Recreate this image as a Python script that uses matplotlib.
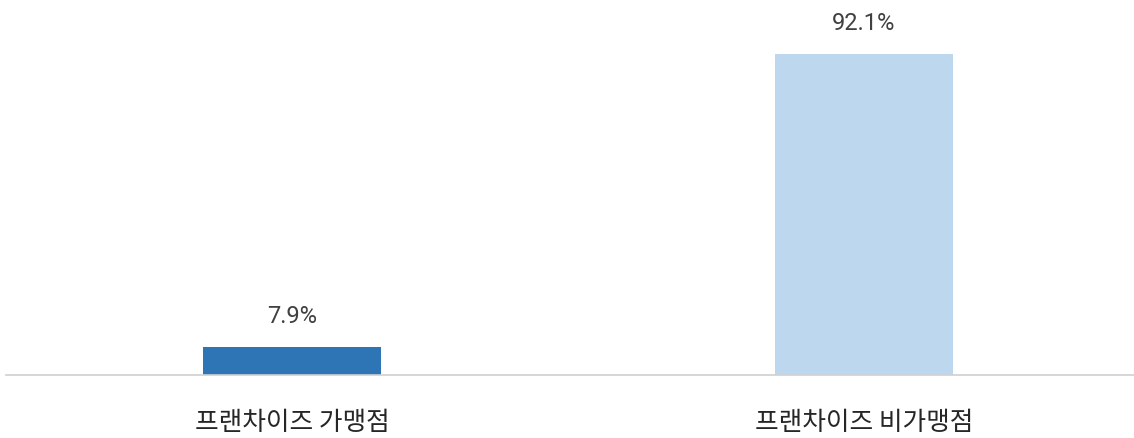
import matplotlib
matplotlib.use("Agg")
import matplotlib.pyplot as plt

categories = ["프랜차이즈 가맹점", "프랜차이즈 비가맹점"]
values = [7.9, 92.1]
value_labels = ["7.9%", "92.1%"]
colors = ["#2E75B6", "#BDD7EE"]

plt.rcParams['font.family'] = ['Noto Sans CJK KR', 'DejaVu Sans']

fig = plt.figure(figsize=(11.34, 4.39), dpi=100)
W, H = 1134, 439
# axes in pixels: x from 6 to 1150 (xlim -0.5..1.5), baseline y=376
ax = fig.add_axes([6 / W, (H - 376) / H, 1144 / W, 348.5 / H])
x = [0, 1]
ax.bar(x, values, width=178 / 572, color=colors)
ax.set_xlim(-0.5, 1.5)
ax.set_ylim(0, 100)
for xi, v, lab in zip(x, values, value_labels):
    ax.annotate(lab, (xi, v), xytext=(0, 23), textcoords="offset points",
                ha="center", va="center", fontsize=17, color="#404040",
                family=['Roboto', 'DejaVu Sans'])
for s in ["top", "right", "left"]:
    ax.spines[s].set_visible(False)
ax.spines["bottom"].set_color("#D0D0D0")
ax.spines["bottom"].set_linewidth(1.2)
ax.set_yticks([])
ax.set_xticks(x)
ax.set_xticklabels(categories, fontsize=18.5, color="#262626")
ax.tick_params(axis="x", length=0, pad=24.5)
fig.savefig("out.png", dpi=100)
